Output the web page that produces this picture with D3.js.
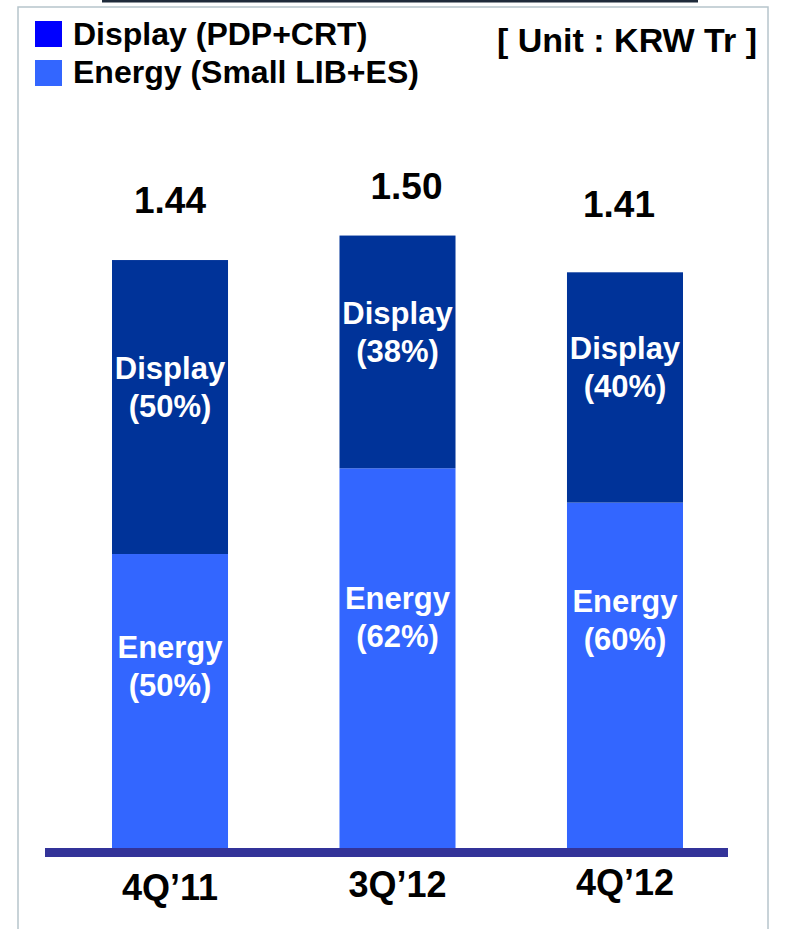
<!DOCTYPE html>
<html>
<head>
<meta charset="utf-8">
<script src="https://cdn.jsdelivr.net/npm/d3@7/dist/d3.min.js"></script>
<style>
  html, body { margin: 0; padding: 0; background: #fff; }
  svg { display: block; }
  text { font-family: "Liberation Sans", Arial, sans-serif; font-weight: bold; }
</style>
</head>
<body>
<svg id="chart" width="785" height="929"></svg>
<script>
// ---- data ----
const categories = ["4Q\u201911", "3Q\u201912", "4Q\u201912"];
const totals = [1.44, 1.50, 1.41];
const energyPct = [50, 62, 60];
const displayPct = [50, 38, 40];
const seriesNames = ["Display (PDP+CRT)", "Energy (Small LIB+ES)"];
const unitLabel = "[ Unit : KRW Tr ]";

// ---- layout (not data) ----
const W = 785, H = 929;
const axisY = 848;
const totalLabelShift = [[0, -47], [9, -37], [-6, -55]];
const energyLabelShift = [-43, -49, -63];
const axisLabelBaseline = [900, 897, 895];
const colors = { display: "#003399", energy: "#3366ff", legendDisplay: "#0000ff", axis: "#333399" };

const svg = d3.select("#chart");

// frame
svg.append("rect").attr("x", 18).attr("y", 7).attr("width", 750).attr("height", H + 10)
  .attr("fill", "none").attr("stroke", "#b7c5cc").attr("stroke-width", 1.5);
svg.append("rect").attr("x", 102).attr("y", 0).attr("width", 596).attr("height", 2.5).attr("fill", "#1f2b3b");

// scales
const x = d3.scaleBand().domain(categories).range([112, 683]).paddingInner(0.49).paddingOuter(0);
const y = d3.scaleLinear().domain([0, 1.5]).range([axisY, axisY - 1.5 * 408.3]);

const rows = categories.map((c, i) => ({
  cat: c, i,
  energy: totals[i] * energyPct[i] / 100,
  display: totals[i] * displayPct[i] / 100,
  total: totals[i]
}));
const stack = d3.stack().keys(["energy", "display"])(rows);

const g = svg.append("g");
g.selectAll("g.layer").data(stack).join("g")
  .attr("fill", d => colors[d.key])
  .selectAll("rect").data(d => d).join("rect")
  .attr("x", d => x(d.data.cat))
  .attr("width", x.bandwidth())
  .attr("y", d => y(d[1]))
  .attr("height", d => y(d[0]) - y(d[1]));

function addText(parent, str, tx, ty, size, anchor, fill) {
  return parent.append("text")
    .attr("x", tx).attr("y", ty)
    .attr("text-anchor", anchor)
    .attr("font-size", size)
    .attr("fill", fill)
    .text(str);
}

// in-bar labels
rows.forEach((r, i) => {
  const cx = x(r.cat) + x.bandwidth() / 2;
  const dMid = (y(r.energy) + y(r.energy + r.display)) / 2;
  addText(svg, "Display", cx, dMid - 28, 31, "middle", "#fff");
  addText(svg, `(${displayPct[i]}%)`, cx, dMid + 10, 31, "middle", "#fff");
  const eMid = (y(0) + y(r.energy)) / 2 + energyLabelShift[i];
  addText(svg, "Energy", cx, eMid, 31, "middle", "#fff");
  addText(svg, `(${energyPct[i]}%)`, cx, eMid + 38, 31, "middle", "#fff");
  // totals
  addText(svg, r.total.toFixed(2), cx + totalLabelShift[i][0], y(r.total) + totalLabelShift[i][1], 37, "middle", "#000");
});

// axis
svg.append("rect").attr("x", 45).attr("y", axisY).attr("width", 683).attr("height", 9).attr("fill", colors.axis);
const axisG = svg.append("g").attr("transform", `translate(0,${axisY})`)
  .call(d3.axisBottom(x).tickSize(0).tickPadding(0));
axisG.select(".domain").remove();
axisG.selectAll(".tick text")
  .attr("font-family", "Liberation Sans, Arial, sans-serif")
  .attr("font-weight", "bold")
  .attr("font-size", 36).attr("fill", "#000")
  .attr("dy", 0)
  .attr("y", (d, i) => axisLabelBaseline[i] - axisY);

// legend
const legendColors = [colors.legendDisplay, colors.energy];
seriesNames.forEach((s, i) => {
  svg.append("rect").attr("x", 35).attr("y", 21 + i * 39).attr("width", 27).attr("height", 26).attr("fill", legendColors[i]);
  addText(svg, s, 73, 45 + i * 38, 32, "start", "#000");
});
addText(svg, unitLabel, 757, 52, 34, "end", "#000");
</script>
</body>
</html>
